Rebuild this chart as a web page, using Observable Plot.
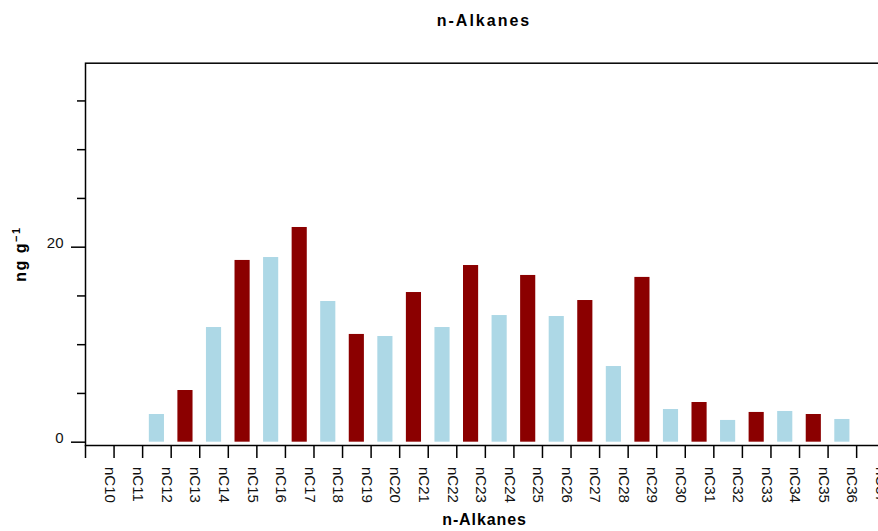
<!DOCTYPE html>
<html>
<head>
<meta charset="utf-8">
<script src="https://cdn.jsdelivr.net/npm/d3@7"></script>
<script src="https://cdn.jsdelivr.net/npm/@observablehq/plot@0.6"></script>
<style>
  html, body { margin: 0; padding: 0; overflow: hidden; background: #fff; width: 878px; height: 531px; }
  body { position: relative; font-family: "Liberation Sans", Arial, Helvetica, sans-serif; }
  #chart { position: absolute; left: 0; top: 0; width: 890px; height: 531px; }
  #chart svg { max-width: none !important; width: 890px !important; height: 531px !important; }
  .title { position: absolute; font-weight: bold; white-space: nowrap; color: #000; }
</style>
</head>
<body>
<div id="chart"></div>
<div class="title" id="t1" style="font-size:16px; letter-spacing:2px; left:0; width:968px; text-align:center; top:12px;">n-Alkanes</div>
<div class="title" id="t2" style="font-size:16px; letter-spacing:0.9px; left:0; width:969px; text-align:center; top:511px;">n-Alkanes</div>
<div class="title" id="t3" style="font-size:16px; letter-spacing:1.5px; left:20px; top:254px; transform: translate(-50%,-50%) rotate(-90deg);">ng g<sup style="font-size:11px; vertical-align: 6px;">−1</sup></div>
<script>
const categories = ["nC10","nC11","nC12","nC13","nC14","nC15","nC16","nC17","nC18","nC19","nC20","nC21","nC22","nC23","nC24","nC25","nC26","nC27","nC28","nC29","nC30","nC31","nC32","nC33","nC34","nC35","nC36","nC37"];
const values = [0, 0, 2.84, 5.3, 11.76, 18.64, 18.94, 22.02, 14.43, 11.05, 10.84, 15.35, 11.76, 18.12, 12.99, 17.1, 12.89, 14.53, 7.76, 16.9, 3.35, 4.07, 2.23, 3.05, 3.15, 2.84, 2.33, 0];
const parities = ["even", "odd"];
const parityColors = ["#ADD8E6", "#8B0000"];
const majorYTicks = [0, 20];
const minorYTicks = [5, 10, 15, 25, 30, 35];

const data = categories.map((c, i) => ({name: c, value: values[i], parity: (parseInt(c.slice(2)) % 2 === 0) ? "even" : "odd"}));

const W = 890, H = 531;
const mL = 85, mR = 5.3, mT = 62.7, mB = 86;
const step = (W - mL - mR) / categories.length;
const font = '"Liberation Sans", Arial, Helvetica, sans-serif';

const chart = Plot.plot({
  width: W,
  height: H,
  marginLeft: mL,
  marginRight: mR,
  marginTop: mT,
  marginBottom: mB,
  style: {fontFamily: font, background: "white", overflow: "visible"},
  x: {type: "band", domain: categories, paddingInner: 0.47, paddingOuter: 0.235, round: false, label: null},
  y: {domain: [-0.34, 38.87], label: null},
  color: {domain: parities, range: parityColors},
  marks: [
    Plot.barY(data, {x: "name", y: "value", fill: "parity"}),
    Plot.frame({stroke: "black", strokeWidth: 1.5}),
    Plot.axisY({ticks: majorYTicks, tickSize: 14, tickFormat: () => "", strokeWidth: 1.5, stroke: "black"}),
    Plot.axisY({ticks: minorYTicks, tickSize: 8, tickFormat: () => "", strokeWidth: 1.5, stroke: "black"}),
    Plot.text(majorYTicks, {y: d => d, text: d => String(d), frameAnchor: "left", textAnchor: "end", dx: -22, dy: -4, fontSize: 15, fill: "#111"}),
    Plot.axisX({ticks: categories, tickSize: 13, tickFormat: () => "", dx: -step / 2, strokeWidth: 1.5, stroke: "black"}),
    Plot.text(categories, {x: d => d, text: d => d, frameAnchor: "bottom", rotate: 90, textAnchor: "start", dy: 21.5, dx: 5, fontSize: 15, fill: "#111"})
  ]
});
document.getElementById("chart").appendChild(chart);
</script>
</body>
</html>
